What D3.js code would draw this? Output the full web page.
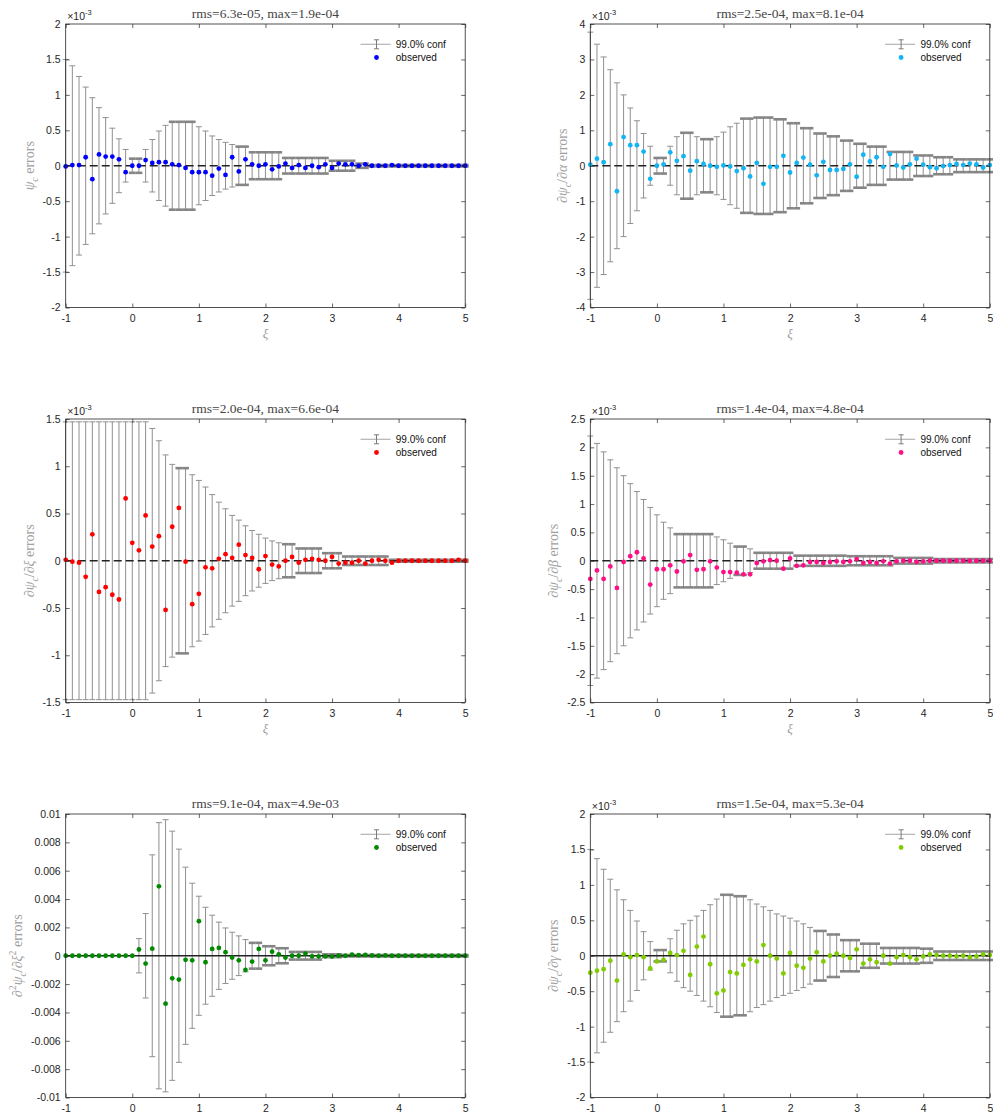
<!DOCTYPE html>
<html>
<head>
<meta charset="utf-8">
<script src="https://cdn.jsdelivr.net/npm/d3@7"></script>
<style>
  body { margin: 0; background: #fff; }
  svg { display: block; }
</style>
</head>
<body>
<svg id="fig" width="993" height="1119"></svg>
<script>
// Grid of ξ positions shared by every panel
const xi = [-1,-0.9,-0.8,-0.7,-0.6,-0.5,-0.4,-0.3,-0.2,-0.1,
  0,0.1,0.2,0.3,0.4,0.5,0.6,0.7,0.8,0.9,
  1,1.1,1.2,1.3,1.4,1.5,1.6,1.7,1.8,1.9,
  2,2.1,2.2,2.3,2.4,2.5,2.6,2.7,2.8,2.9,
  3,3.1,3.2,3.3,3.4,3.5,3.6,3.7,3.8,3.9,
  4,4.1,4.2,4.3,4.4,4.5,4.6,4.7,4.8,4.9,5];
const xTicks = [-1, 0, 1, 2, 3, 4, 5];

// All values below are in units of 1e-3
// ψ_c errors
const p1Obs = [-0.01,0.01,0.01,0.12,-0.19,0.16,0.13,0.13,0.09,-0.09,
  0,0,0.08,0.04,0.05,0.05,0.02,0.01,-0.03,-0.09,
  -0.09,-0.09,-0.14,-0.04,-0.13,0.12,-0.08,0.09,0.02,0,
  0.02,-0.05,-0.01,0.03,-0.03,0.01,-0.03,0,-0.02,0.02,
  -0.03,0.03,0.02,0.02,0,0.02,0,0,0,0.01,
  0,0,0,0,0,0,0,0,0,0,0];
const p1Conf = [1.5,1.41,1.26,1.11,0.96,0.82,0.68,0.53,0.38,0.23,
  0.1,0.1,0.23,0.37,0.49,0.57,0.62,0.62,0.62,0.62,
  0.55,0.49,0.42,0.37,0.33,0.3,0.27,0.27,0.19,0.19,
  0.19,0.19,0.19,0.11,0.11,0.11,0.11,0.11,0.11,0.11,
  0.07,0.07,0.07,0.07,0.03,0.03,0.01,0.01,0.01,0.01,
  0.01,0.01,0.01,0.01,0.01,0.01,0.01,0.01,0.01,0.01,0.01];
const p1YTicks = [-2,-1.5,-1,-0.5,0,0.5,1,1.5,2];

// ∂ψ_c/∂α errors
const p2Obs = [0.03,0.2,0.1,0.61,-0.72,0.81,0.58,0.58,0.4,-0.37,
  0,0.04,0.38,0.14,0.27,-0.14,0.13,0.05,0,-0.03,
  0.01,-0.02,-0.15,-0.07,-0.3,0.08,-0.51,-0.03,-0.03,0.28,
  -0.19,0.08,0.23,0.03,-0.27,0.11,-0.12,-0.12,-0.09,0.04,
  -0.31,0.31,0.12,0.24,-0.03,0.33,0.01,-0.05,0.04,0.2,
  0.03,-0.04,-0.07,-0.01,0.02,0.05,0.02,0.06,0.04,-0.05,0.02];
const p2Conf = [3.77,3.43,3.07,2.71,2.34,2.0,1.63,1.27,0.91,0.55,
  0.22,0.22,0.55,0.82,0.93,0.93,0.82,0.75,0.75,0.82,
  0.95,1.1,1.2,1.33,1.33,1.36,1.36,1.36,1.31,1.31,
  1.2,1.2,1.06,1.06,0.91,0.91,0.83,0.83,0.71,0.71,
  0.62,0.62,0.54,0.54,0.54,0.39,0.39,0.39,0.39,0.29,
  0.29,0.29,0.24,0.24,0.24,0.18,0.18,0.18,0.18,0.18,0.18];
const p2YTicks = [-4,-3,-2,-1,0,1,2,3,4];

// ∂ψ_c/∂ξ errors
const p3Obs = [0.01,-0.01,-0.02,-0.17,0.28,-0.33,-0.28,-0.36,-0.41,0.66,
  0.19,0.11,0.48,0.15,0.26,-0.52,0.36,0.56,-0.01,-0.46,
  -0.35,-0.07,-0.08,0.02,0.07,0.03,0.17,0.06,0.03,-0.09,
  0.05,-0.04,-0.06,0,0.04,-0.02,0.01,0.02,0.01,0,
  0.04,-0.03,-0.02,-0.02,0,-0.03,0,0.01,0,-0.02,
  0,0,0,0,0,0,0,0,0,0.01,0];
const p3Conf = [1.47,1.47,1.47,1.47,1.47,1.47,1.47,1.47,1.47,1.47,
  1.47,1.47,1.47,1.40,1.27,1.12,1.02,0.98,0.98,0.91,
  0.85,0.78,0.70,0.62,0.55,0.48,0.43,0.37,0.32,0.28,
  0.24,0.21,0.19,0.175,0.175,0.13,0.13,0.13,0.13,0.08,
  0.08,0.08,0.045,0.045,0.045,0.045,0.045,0.045,0.045,0.01,
  0.01,0.01,0.01,0.01,0.01,0.01,0.01,0.01,0.01,0.01,0.01];
const p3YTicks = [-1.5,-1,-0.5,0,0.5,1,1.5];

// ∂ψ_c/∂β errors
const p4Obs = [-0.32,-0.17,-0.32,-0.10,-0.48,-0.02,0.08,0.15,0.04,-0.42,
  -0.15,-0.15,-0.08,-0.19,-0.01,0.1,-0.16,-0.15,-0.01,-0.12,
  -0.2,-0.2,-0.21,-0.24,-0.24,-0.04,-0.01,0.01,0,-0.14,
  0.04,-0.09,-0.08,-0.02,-0.02,-0.04,-0.02,-0.01,-0.02,-0.01,
  0.03,-0.04,-0.02,-0.04,-0.01,-0.05,-0.01,0,0,-0.02,
  -0.01,0,0,0,0,0,0,0,0,0,0];
const p4Conf = [2.2,2.07,1.92,1.78,1.64,1.5,1.36,1.22,1.08,0.94,
  0.81,0.68,0.58,0.47,0.47,0.47,0.47,0.47,0.47,0.42,
  0.37,0.31,0.25,0.25,0.21,0.14,0.14,0.14,0.14,0.14,
  0.14,0.09,0.09,0.09,0.09,0.09,0.09,0.09,0.09,0.08,
  0.08,0.08,0.08,0.08,0.08,0.08,0.05,0.05,0.05,0.05,
  0.05,0.05,0.03,0.03,0.03,0.03,0.03,0.03,0.03,0.03,0.03];
const p4YTicks = [-2.5,-2,-1.5,-1,-0.5,0,0.5,1,1.5,2,2.5];

// ∂²ψ_c/∂ξ² errors
const p5Obs = [0,0,0,0,0,0,0,0,0,0,
  0,0.44,-0.55,0.5,4.9,-3.38,-1.59,-1.68,-0.29,-0.32,
  2.44,-0.46,0.48,0.55,0.25,-0.13,-0.32,-1.0,-0.41,0.48,
  -0.32,0.29,0.1,-0.13,0,0,0.15,-0.04,-0.04,-0.04,
  -0.06,0,0,0.08,0.04,0.06,0.02,0,0.02,0,
  0,0,0,0,0,0,0,0,0,0,0];
const p5Conf = [0,0,0,0,0,0,0,0,0,0,
  0,1.21,2.98,7.12,9.39,9.6,8.79,7.52,6.25,5.12,
  4.2,3.42,2.86,2.37,1.96,1.66,1.4,1.14,0.91,0.91,
  0.67,0.67,0.53,0.53,0.27,0.27,0.27,0.27,0.27,0.1,
  0.1,0.1,0.05,0.05,0.05,0.05,0.05,0.05,0.05,0.05,
  0.05,0.05,0.05,0.05,0.05,0.05,0.05,0.05,0.05,0.05,0.05];
const p5YTicks = [-10,-8,-6,-4,-2,0,2,4,6,8,10];
const p5YTickLabels = ["-0.01","-0.008","-0.006","-0.004","-0.002","0","0.002","0.004","0.006","0.008","0.01"];

// ∂ψ_c/∂γ errors
const p6Obs = [-0.24,-0.21,-0.19,-0.07,-0.35,0.02,-0.02,0.01,-0.02,-0.18,
  -0.08,-0.06,0.04,0.01,0.07,-0.27,0.13,0.27,-0.12,-0.53,
  -0.49,-0.23,-0.25,-0.13,-0.05,-0.08,0.15,0,-0.04,-0.25,
  0.04,-0.14,-0.17,-0.04,0.05,-0.08,0,0.03,0,-0.03,
  0.09,-0.11,-0.05,-0.09,0,-0.11,-0.02,0.01,-0.02,-0.05,
  -0.01,0.02,0.01,0,0,-0.01,0,-0.02,-0.01,0.02,0.01];
const p6Conf = [1.5,1.37,1.22,1.08,0.93,0.79,0.64,0.49,0.34,0.2,
  0.08,0.08,0.24,0.36,0.45,0.5,0.56,0.64,0.72,0.8,
  0.86,0.86,0.84,0.84,0.79,0.73,0.69,0.64,0.59,0.56,
  0.53,0.49,0.45,0.4,0.35,0.35,0.3,0.3,0.22,0.22,
  0.22,0.17,0.17,0.17,0.11,0.11,0.11,0.11,0.11,0.11,
  0.1,0.1,0.06,0.06,0.06,0.06,0.06,0.06,0.06,0.06,0.06];
const p6YTicks = [-2,-1.5,-1,-0.5,0,0.5,1,1.5,2];

const titles = [
  "rms=6.3e-05, max=1.9e-04",
  "rms=2.5e-04, max=8.1e-04",
  "rms=2.0e-04, max=6.6e-04",
  "rms=1.4e-04, max=4.8e-04",
  "rms=9.1e-04, max=4.9e-03",
  "rms=1.5e-04, max=5.3e-04"
];
const legendLabels = ["99.0% conf", "observed"];

// y-axis label pieces: [text, style]
const yLabels = [
  [["ψ","i"],["c","sub"],[" errors",""]],
  [["∂",""],["ψ","i"],["c","sub"],["/∂",""],["α","i"],[" errors",""]],
  [["∂",""],["ψ","i"],["c","sub"],["/∂",""],["ξ","i"],[" errors",""]],
  [["∂",""],["ψ","i"],["c","sub"],["/∂",""],["β","i"],[" errors",""]],
  [["∂",""],["2","sup"],["ψ","i"],["c","sub"],["/∂",""],["ξ","i"],["2","sup"],[" errors",""]],
  [["∂",""],["ψ","i"],["c","sub"],["/∂",""],["γ","i"],[" errors",""]]
];

const panels = [
  {obs: p1Obs, conf: p1Conf, yTicks: p1YTicks, color: "#0000ff", col: 0, row: 0, exp: true,  dashed: true,  xlabel: true},
  {obs: p2Obs, conf: p2Conf, yTicks: p2YTicks, color: "#12b4f2", col: 1, row: 0, exp: true,  dashed: true,  xlabel: true},
  {obs: p3Obs, conf: p3Conf, yTicks: p3YTicks, color: "#ff0000", col: 0, row: 1, exp: true,  dashed: true,  xlabel: true},
  {obs: p4Obs, conf: p4Conf, yTicks: p4YTicks, color: "#ff0f86", col: 1, row: 1, exp: true,  dashed: true,  xlabel: true},
  {obs: p5Obs, conf: p5Conf, yTicks: p5YTicks, color: "#008a00", col: 0, row: 2, exp: false, dashed: false, xlabel: false, tickLabels: p5YTickLabels},
  {obs: p6Obs, conf: p6Conf, yTicks: p6YTicks, color: "#80cc00", col: 1, row: 2, exp: true,  dashed: false, xlabel: false}
];

// Layout of the 3x2 grid of axes
const colLeft = [65.7, 590.3];
const rowTop = [24, 419, 814];
const axW = 399.5, axH = 283.5;

const svg = d3.select("#fig");
const SANS = "'Liberation Sans', Arial, Helvetica, sans-serif";
const SERIF = "'Liberation Serif', 'Times New Roman', serif";
const AXIS_COLOR = "#262626";

// Runs of identical confidence values (pooled bins) get heavier caps;
// a run that begins at the first point is a saturated range and stays thin.
function pooledFlags(conf) {
  const n = conf.length, flags = new Array(n).fill(false);
  let i = 0;
  while (i < n) {
    let j = i;
    while (j + 1 < n && conf[j + 1] === conf[i]) j++;
    if (j > i && i > 0) for (let k = i; k <= j; k++) flags[k] = true;
    i = j + 1;
  }
  return flags;
}

function mathText(sel, parts, size) {
  let shift = 0;
  parts.forEach(([t, s]) => {
    const ts = sel.append("tspan").text(t);
    let target = 0, fs = size;
    if (s === "sub") { target = size * 0.3; fs = size * 0.7; }
    if (s === "sup") { target = -size * 0.4; fs = size * 0.7; }
    if (s === "i" || s === "sub") ts.attr("font-style", "italic");
    ts.attr("font-size", fs).attr("dy", target - shift);
    shift = target;
  });
}

panels.forEach((p, pi) => {
  const left = colLeft[p.col], top = rowTop[p.row];
  const right = left + axW, bottom = top + axH;
  const yMax = d3.max(p.yTicks), yMin = d3.min(p.yTicks);

  const x = d3.scaleLinear().domain([-1, 5]).range([left, right]);
  const y = d3.scaleLinear().domain([yMin, yMax]).range([bottom, top]);

  const g = svg.append("g");
  const flags = pooledFlags(p.conf);

  // error bars
  const eb = g.append("g");
  xi.forEach((xv, i) => {
    const c = p.conf[i];
    if (!(c > 0)) return;
    const cx = x(xv);
    eb.append("line")
      .attr("x1", cx).attr("x2", cx)
      .attr("y1", y(-c)).attr("y2", y(c))
      .attr("stroke", "#8f8f8f").attr("stroke-width", 1);
    const thick = flags[i];
    const hw = thick ? 3.4 : 3;
    [c, -c].forEach(v => {
      eb.append("line")
        .attr("x1", cx - hw).attr("x2", cx + hw)
        .attr("y1", y(v)).attr("y2", y(v))
        .attr("stroke", thick ? "#858585" : "#909090")
        .attr("stroke-width", thick ? 2.6 : 1);
    });
  });

  // zero reference line
  g.append("line")
    .attr("x1", left).attr("x2", right)
    .attr("y1", y(0)).attr("y2", y(0))
    .attr("stroke", "#222")
    .attr("stroke-width", 1.3)
    .attr("stroke-dasharray", p.dashed ? "8,4" : null);

  // observed points
  g.append("g").selectAll("circle")
    .data(xi.map((xv, i) => [xv, p.obs[i]]))
    .join("circle")
    .attr("cx", d => x(d[0]))
    .attr("cy", d => y(d[1]))
    .attr("r", 2.4)
    .attr("fill", p.color);

  // axes (ticks pointing inward on all four sides)
  const yFmt = p.tickLabels ? (d => p.tickLabels[p.yTicks.indexOf(d)]) : (d => String(d));
  const axL = g.append("g").attr("transform", `translate(${left},0)`)
    .call(d3.axisLeft(y).tickValues(p.yTicks).tickFormat(yFmt).tickSizeInner(-4).tickSizeOuter(0).tickPadding(5));
  g.append("g").attr("transform", `translate(0,${bottom})`)
    .call(d3.axisBottom(x).tickValues(xTicks).tickFormat(d => String(d)).tickSizeInner(-4).tickSizeOuter(0).tickPadding(7));
  g.append("g").attr("transform", `translate(${right},0)`)
    .call(d3.axisRight(y).tickValues(p.yTicks).tickFormat("").tickSizeInner(-4).tickSizeOuter(0));
  g.append("g").attr("transform", `translate(0,${top})`)
    .call(d3.axisTop(x).tickValues(xTicks).tickFormat("").tickSizeInner(-4).tickSizeOuter(0));
  g.selectAll(".domain").remove();
  g.selectAll(".tick line").attr("stroke", AXIS_COLOR).attr("stroke-width", 0.7);
  g.selectAll(".tick text").attr("fill", AXIS_COLOR).attr("font-family", SANS).attr("font-size", 10.5);

  g.append("rect")
    .attr("x", left).attr("y", top).attr("width", axW).attr("height", axH)
    .attr("fill", "none").attr("stroke", AXIS_COLOR).attr("stroke-width", 0.8);

  // exponent marker
  if (p.exp) {
    const ex = g.append("text").attr("x", left + 1.5).attr("y", top - 4)
      .attr("font-family", SANS).attr("font-size", 10.5).attr("fill", AXIS_COLOR);
    ex.append("tspan").text("×10");
    ex.append("tspan").text("-3").attr("font-size", 7.5).attr("dy", -5);
  }

  // title
  g.append("text")
    .attr("x", (left + right) / 2).attr("y", top - 6)
    .attr("text-anchor", "middle")
    .attr("font-family", SERIF).attr("font-size", 13.5).attr("fill", "#454545")
    .text(titles[pi]);

  // x label
  if (p.xlabel) {
    g.append("text")
      .attr("x", (left + right) / 2).attr("y", bottom + 30)
      .attr("text-anchor", "middle")
      .attr("font-family", SERIF).attr("font-size", 13).attr("font-style", "italic")
      .attr("fill", "#9a9a9a")
      .text("ξ");
  }

  // y label, placed just outside the tick labels
  const bb = axL.node().getBBox();
  const lx = left + bb.x - 9;
  const yl = g.append("text")
    .attr("transform", `translate(${lx},${(top + bottom) / 2}) rotate(-90)`)
    .attr("text-anchor", "middle")
    .attr("font-family", SERIF).attr("font-size", 14).attr("fill", "#a0a0a0");
  mathText(yl, yLabels[pi], 14);

  // legend
  const lg = g.append("g").attr("font-family", SANS).attr("font-size", 10).attr("fill", "#111");
  const ly1 = top + 20.3, ly2 = top + 33.5, gx = right - 88.7;
  lg.append("line").attr("x1", right - 104.7).attr("x2", right - 74.7)
    .attr("y1", ly1).attr("y2", ly1).attr("stroke", "#b4b4b4").attr("stroke-width", 1.2);
  lg.append("line").attr("x1", gx).attr("x2", gx).attr("y1", ly1 - 4.5).attr("y2", ly1 + 4.5)
    .attr("stroke", "#7a7a7a").attr("stroke-width", 1);
  [ly1 - 4.5, ly1 + 4.5].forEach(v => lg.append("line")
    .attr("x1", gx - 2.5).attr("x2", gx + 2.5).attr("y1", v).attr("y2", v)
    .attr("stroke", "#7a7a7a").attr("stroke-width", 1));
  lg.append("text").attr("x", right - 69.4).attr("y", ly1 + 3.6).text(legendLabels[0]);
  lg.append("circle").attr("cx", gx).attr("cy", ly2).attr("r", 2.4).attr("fill", p.color);
  lg.append("text").attr("x", right - 69.4).attr("y", ly2 + 3.6).text(legendLabels[1]);
});
</script>
</body>
</html>
